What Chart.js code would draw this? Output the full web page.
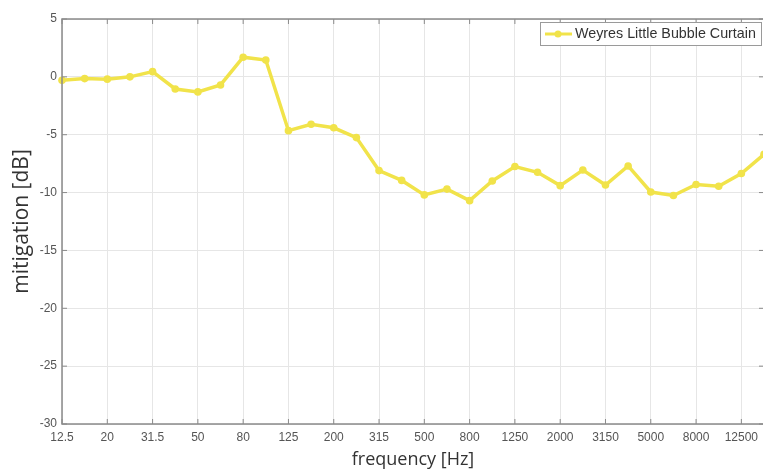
<!DOCTYPE html>
<html>
<head>
<meta charset="utf-8">
<script src="https://cdn.jsdelivr.net/npm/chart.js@4.4.1/dist/chart.umd.min.js"></script>
<style>
  html, body { margin: 0; padding: 0; background: #fff; overflow: hidden; }
  #wrap { width: 763px; height: 471px; overflow: hidden; }
</style>
</head>
<body>
<div id="wrap"><canvas id="chart" width="770" height="471"></canvas></div>
<script>
// third-octave band centre frequencies
const frequencies = ['12.5', '16', '20', '25', '31.5', '40', '50', '63', '80', '100',
  '125', '160', '200', '250', '315', '400', '500', '630', '800', '1000',
  '1250', '1600', '2000', '2500', '3150', '4000', '5000', '6300', '8000', '10000',
  '12500', '16000'];

const mitigation = [-0.3, -0.15, -0.2, 0.0, 0.45, -1.05, -1.3, -0.7, 1.7, 1.45,
  -4.65, -4.1, -4.4, -5.25, -8.1, -8.95, -10.2, -9.7, -10.7, -9.0,
  -7.75, -8.25, -9.4, -8.05, -9.35, -7.7, -9.95, -10.25, -9.3, -9.45,
  -8.35, -6.7];

const seriesName = 'Weyres Little Bubble Curtain';
const lineColor = '#f1e34a';

// box around the plot plus inward tick marks, like the original
const boxPlugin = {
  id: 'box',
  afterDatasetsDraw(chart) {
    const {ctx, chartArea: a, scales} = chart;
    ctx.save();
    ctx.strokeStyle = '#8a8a8a';
    ctx.lineWidth = 1.5;
    ctx.strokeRect(a.left, a.top, a.right - a.left, a.bottom - a.top);
    ctx.lineWidth = 1;
    ctx.beginPath();
    scales.x.ticks.forEach((t, i) => {
      if (i % 2) return;
      const x = scales.x.getPixelForTick(i);
      ctx.moveTo(x, a.bottom); ctx.lineTo(x, a.bottom - 5);
      ctx.moveTo(x, a.top); ctx.lineTo(x, a.top + 5);
    });
    scales.y.ticks.forEach((t, i) => {
      const y = scales.y.getPixelForTick(i);
      ctx.moveTo(a.left, y); ctx.lineTo(a.left + 5, y);
      ctx.moveTo(a.right, y); ctx.lineTo(a.right - 5, y);
    });
    ctx.stroke();
    ctx.restore();
  }
};

// legend box in the upper right corner of the plot
const legendPlugin = {
  id: 'innerLegend',
  afterDraw(chart) {
    const {ctx} = chart;
    const ds = chart.data.datasets[0];
    ctx.save();
    ctx.fillStyle = '#fff';
    ctx.strokeStyle = '#9a9a9a';
    ctx.lineWidth = 1;
    ctx.fillRect(540.5, 22.5, 221, 23);
    ctx.strokeRect(540.5, 22.5, 221, 23);
    ctx.strokeStyle = ds.borderColor;
    ctx.lineWidth = 3;
    ctx.beginPath();
    ctx.moveTo(545, 34); ctx.lineTo(572, 34);
    ctx.stroke();
    ctx.fillStyle = ds.borderColor;
    ctx.beginPath();
    ctx.arc(558, 34, 3.5, 0, Math.PI * 2);
    ctx.fill();
    ctx.fillStyle = '#333';
    ctx.font = '14.3px "Liberation Sans", Arial, sans-serif';
    ctx.textBaseline = 'middle';
    ctx.fillText(ds.label, 575, 34.5);
    ctx.restore();
  }
};

new Chart(document.getElementById('chart'), {
  type: 'line',
  data: {
    labels: frequencies,
    datasets: [{
      label: seriesName,
      data: mitigation,
      borderColor: lineColor,
      backgroundColor: lineColor,
      borderWidth: 3.5,
      pointRadius: 3.8,
      pointBorderWidth: 0,
      tension: 0
    }]
  },
  options: {
    responsive: false,
    animation: false,
    layout: {padding: {left: 0, right: 2, top: 19, bottom: 0}},
    plugins: {legend: {display: false}, tooltip: {enabled: false}},
    scales: {
      x: {
        offset: false,
        grid: {
          drawTicks: false,
          color: ctx => (ctx.index % 2 === 0 ? '#e6e6e6' : 'rgba(0,0,0,0)')
        },
        border: {display: false},
        ticks: {
          autoSkip: false,
          maxRotation: 0,
          padding: 6,
          color: '#555',
          font: {family: '"Liberation Sans", Arial, sans-serif', size: 12},
          callback: function (v, i) { return i % 2 === 0 ? this.getLabelForValue(v) : ''; }
        },
        title: {
          display: true,
          text: 'frequency [Hz]',
          color: '#333',
          font: {family: '"Open Sans", sans-serif', size: 18},
          padding: {top: 0, bottom: 0}
        },
        afterFit: s => { s.height = 47; }
      },
      y: {
        min: -30,
        max: 5,
        grid: {drawTicks: false, color: '#e6e6e6'},
        border: {display: false},
        ticks: {
          stepSize: 5,
          padding: 5,
          color: '#555',
          font: {family: '"Liberation Sans", Arial, sans-serif', size: 12}
        },
        title: {
          display: true,
          text: 'mitigation [dB]',
          color: '#333',
          font: {family: '"Open Sans", sans-serif', size: 21},
          padding: {top: 9, bottom: 0}
        },
        afterFit: s => { s.width = 62; }
      }
    }
  },
  plugins: [boxPlugin, legendPlugin]
});
</script>
</body>
</html>
